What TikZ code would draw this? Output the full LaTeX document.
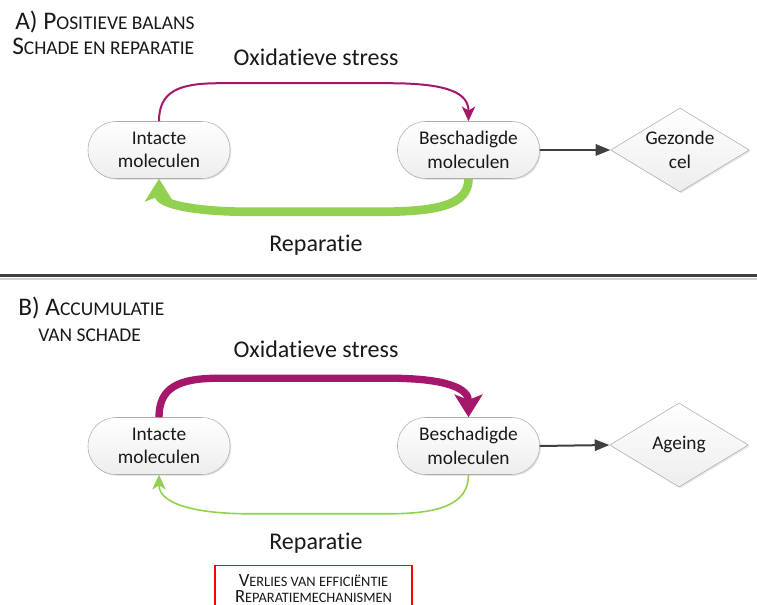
\documentclass[tikz,border=0pt]{standalone}
\usepackage{fontspec}
\setmainfont{Carlito}[Ligatures=NoCommon]
\usetikzlibrary{arrows.meta, shapes.geometric, shadows}

\definecolor{stresspurple}{RGB}{165,23,107}
\definecolor{repairgreen}{RGB}{146,208,80}
\definecolor{linegray}{RGB}{64,64,64}
\definecolor{textblack}{RGB}{25,25,25}

% fake small caps sizes
\newcommand{\capbig}{\fontsize{19}{20}\selectfont}
\newcommand{\capsml}{\fontsize{14.6}{20}\selectfont}
\newcommand{\boxbig}{\fontsize{14}{14.5}\selectfont}
\newcommand{\boxsml}{\fontsize{10.8}{14.5}\selectfont}

\begin{document}
\begin{tikzpicture}[x=0.75pt, y=-0.75pt,
    molecule/.style={draw=gray!65, rounded corners=21pt, minimum width=106.5pt,
                     minimum height=42.75pt, inner sep=0pt, align=center,
                     top color=white, bottom color=gray!14, text=textblack,
                     font=\fontsize{14.5}{17.5}\selectfont,
                     drop shadow={opacity=0.2, shadow xshift=1pt, shadow yshift=-1pt}},
    outcome/.style={diamond, aspect=1.65, draw=gray!65, minimum width=104pt,
                    minimum height=63pt, inner sep=0pt, align=center,
                    top color=white, bottom color=gray!14, text=textblack,
                    font=\fontsize{14.5}{17.5}\selectfont,
                    drop shadow={opacity=0.2, shadow xshift=1pt, shadow yshift=-1pt}},
    caption/.style={font=\fontsize{18}{20}\selectfont, text=textblack},
    title/.style={anchor=base west, inner sep=0pt, text=textblack},
    flow/.style={-{Triangle[length=11pt, width=8.5pt]}, line width=1.5pt, draw=linegray},
    stressthin/.style={-{Stealth[length=11pt, width=10pt, inset=3pt]}, line width=1.5pt, draw=stresspurple},
    stressthick/.style={-{Stealth[length=17pt, width=21pt, inset=4pt]}, line width=5.5pt, draw=stresspurple},
    repairthin/.style={-{Stealth[length=11pt, width=10pt, inset=3pt]}, line width=1.2pt, draw=repairgreen},
    repairthick/.style={-{Stealth[length=17pt, width=21pt, inset=4pt]}, line width=6.5pt, draw=repairgreen},
]
\clip (0,0) rectangle (757,605);

% A) positive balance
\node[title] (titleA1) at (15,30) {\capbig A) P\capsml OSITIEVE BALANS};
\node[title] (titleA2) at (12,55) {\capbig S\capsml CHADE EN REPARATIE};

\node[molecule] (intA) at (159,150) {Intacte\\moleculen};
\node[molecule] (besA) at (468.5,150) {Beschadigde\\moleculen};
\node[outcome] (gezond) at (680,150) {Gezonde\\cel};

\node[caption] (stressA) at (316,57) {Oxidatieve stress};
\node[caption] (repairA) at (316,245) {Reparatie};

\draw[stressthin] (intA.north) .. controls +(0,-30) and +(-40,0) .. ++(60,-38)
    -- ++(170,0) .. controls +(60,0) and +(0,-28) .. (besA.north);
\draw[repairthick] (besA.south) .. controls +(0,26) and +(60,0) .. ++(-90,33)
    -- ++(-130,0) .. controls +(-50,0) and +(0,26) .. (intA.south);
\draw[flow] (besA.east) -- (gezond.west);

% separator
\draw[gray!35, line width=1.5pt] (0,279) -- (757,279);
\draw[linegray, line width=2.25pt] (0,276) -- (757,276);

% B) accumulation of damage
\node[title] (titleB1) at (18,316) {\capbig B) A\capsml CCUMULATIE};
\node[title] (titleB2) at (38,342) {\capsml VAN SCHADE};

\node[molecule] (intB) at (159,446) {Intacte\\moleculen};
\node[molecule] (besB) at (468.5,446) {Beschadigde\\moleculen};
\node[outcome] (ageing) at (679,445) {Ageing};

\node[caption] (stressB) at (316,349) {Oxidatieve stress};
\node[caption] (repairB) at (316,543) {Reparatie};

\draw[stressthick] (intB.north) .. controls +(0,-30) and +(-40,0) .. ++(60,-39)
    -- ++(170,0) .. controls +(60,0) and +(0,-28) .. (besB.north);
\draw[repairthin] (besB.south) .. controls +(0,30) and +(50,0) .. ++(-80,39)
    -- ++(-140,0) .. controls +(-50,0) and +(0,30) .. (intB.south);
\draw[flow] (besB.east) -- (ageing.west);

\node[draw=red, line width=1pt, anchor=north, minimum width=147.75pt,
      inner xsep=3pt, inner ysep=0pt, text height=27.5pt, text depth=10pt,
      align=center, text=textblack]
    (verlies) at (313.5,565)
    {\boxbig V\boxsml ERLIES VAN EFFICI\"ENTIE\\\boxbig R\boxsml EPARATIEMECHANISMEN};
\end{tikzpicture}
\end{document}
